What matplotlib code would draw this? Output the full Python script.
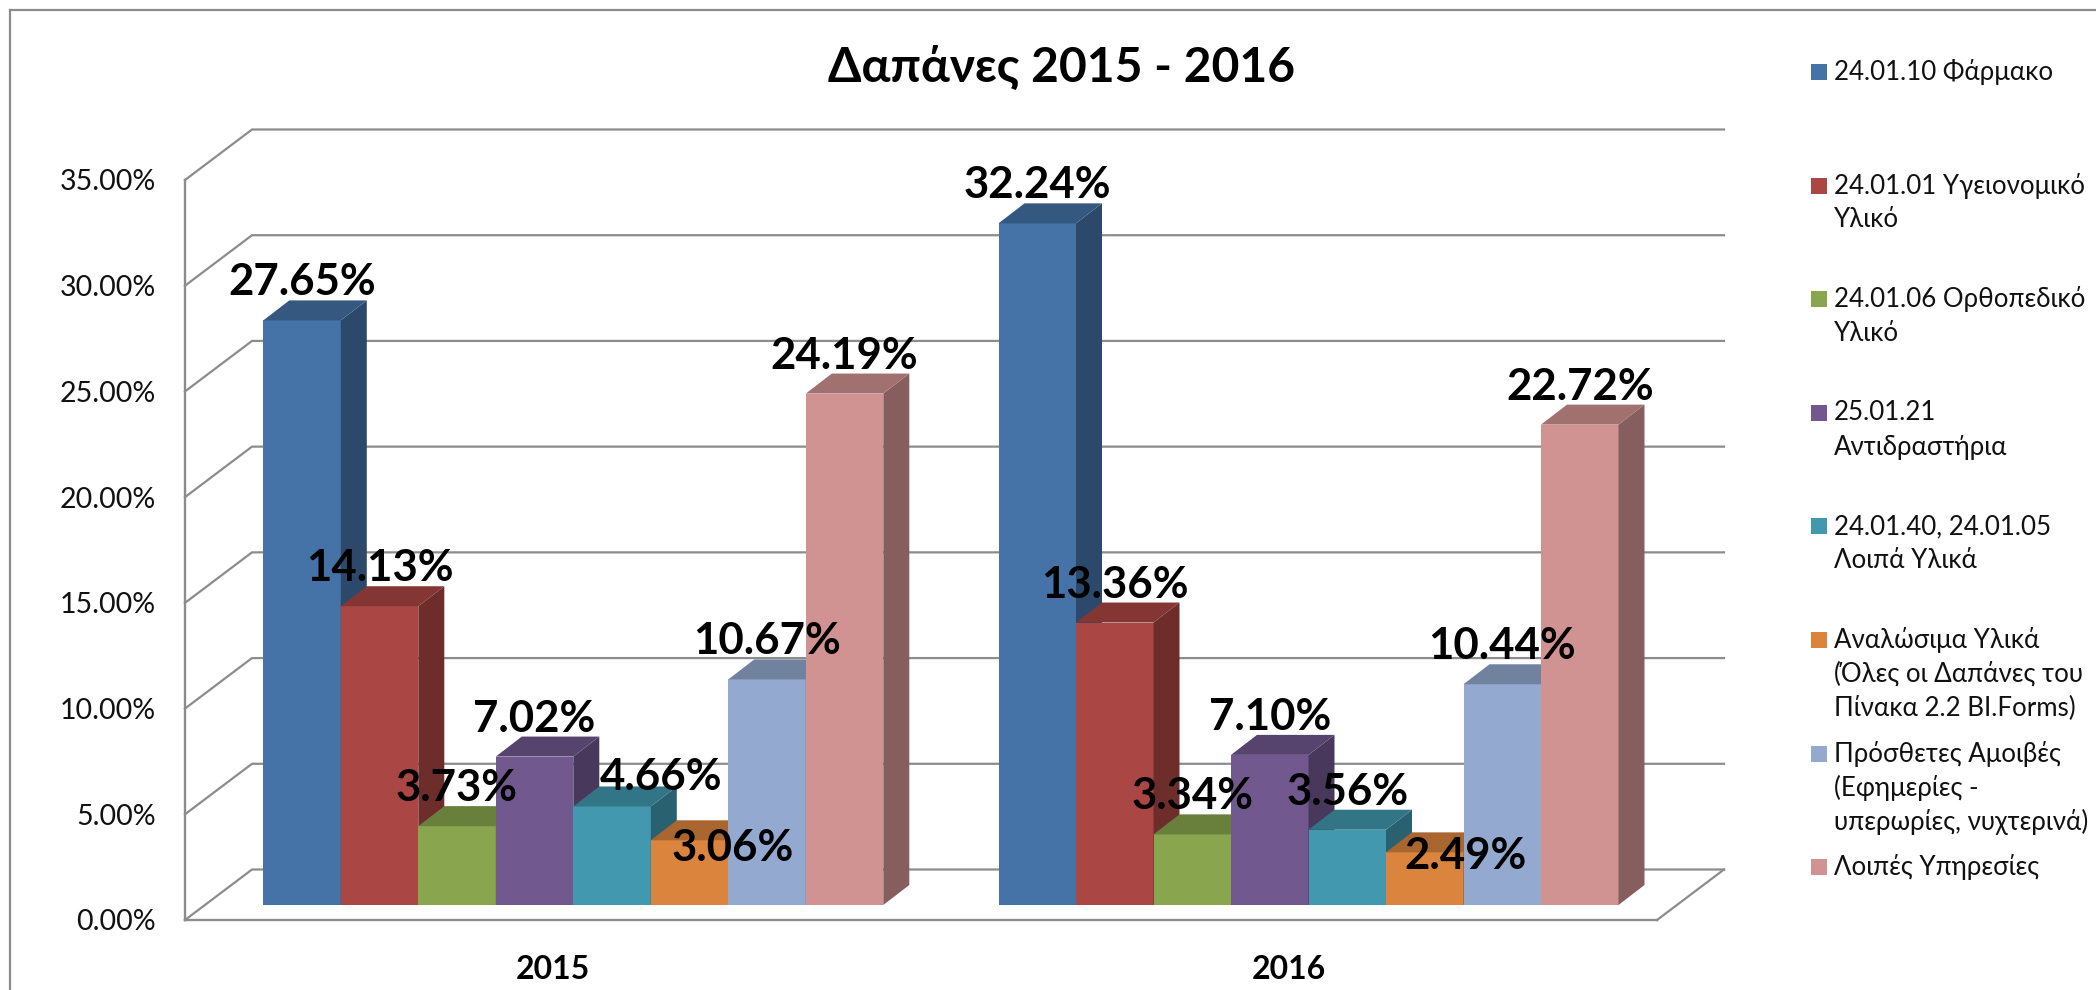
"""Δαπάνες 2015 - 2016: pseudo-3D grouped bars, Excel style."""

import matplotlib

matplotlib.use("Agg")
import matplotlib.pyplot as plt
import numpy as np
from matplotlib.colors import to_rgb
from matplotlib.lines import Line2D
from matplotlib.patches import Polygon, Rectangle

plt.rcParams["font.family"] = ["Lato", "Noto Sans", "DejaVu Sans"]

YEARS = ["2015", "2016"]
SERIES = [
    ["24.01.10 Φάρμακο"],
    ["24.01.01 Υγειονομικό", "Υλικό"],
    ["24.01.06 Ορθοπεδικό", "Υλικό"],
    ["25.01.21", "Αντιδραστήρια"],
    ["24.01.40, 24.01.05", "Λοιπά Υλικά"],
    ["Αναλώσιμα Υλικά", "(Όλες οι Δαπάνες του", "Πίνακα 2.2 BI.Forms)"],
    ["Πρόσθετες Αμοιβές", "(Εφημερίες -", "υπερωρίες, νυχτερινά)"],
    ["Λοιπές Υπηρεσίες"],
]
VALUES_2015 = [27.65, 14.13, 3.73, 7.02, 4.66, 3.06, 10.67, 24.19]
VALUES_2016 = [32.24, 13.36, 3.34, 7.10, 3.56, 2.49, 10.44, 22.72]
Y_TICKS = [0, 5, 10, 15, 20, 25, 30, 35]

COLORS = ["#4572A7", "#AA4643", "#89A54E", "#71588F",
          "#4198AF", "#DB843D", "#93A9CF", "#D19392"]
GRAY = "#8C8C8C"

W, H = 2096, 990
BAR_W = 77.5  # px per x unit
PX_PER_PCT = 740 / 35
GROUP_STARTS = [(263.3 - 185) / BAR_W, (998.5 - 185) / BAR_W]
BASE = 15 / PX_PER_PCT  # bars stand a little behind the front edge of the floor
DEPTH_X, DEPTH_Y = 26 / BAR_W, 20 / PX_PER_PCT  # bar depth
WALL_X, WALL_Y = 67 / BAR_W, 50.5 / PX_PER_PCT  # wall depth

# labels that were moved by hand in the original, in px from the default spot
LABEL_SHIFT = {(0, 4): (49, 9), (0, 5): (43, 46), (1, 5): (41, 42)}


def fx(px):
    return px / W


def fy(py):
    return 1 - py / H


def shade(color, k):
    return tuple(c * k for c in to_rgb(color))


fig = plt.figure(figsize=(W / 100, H / 100), dpi=100)
ax = fig.add_axes([fx(185), fy(920), 1472 / W, 740 / H])
ax.set_xlim(0, 1472 / BAR_W)
ax.set_ylim(0, 35)
ax.patch.set_alpha(0)

for side in ("top", "right"):
    ax.spines[side].set_visible(False)
for side in ("left", "bottom"):
    ax.spines[side].set_color(GRAY)
    ax.spines[side].set_linewidth(1.7)

ax.set_yticks(Y_TICKS)
ax.set_yticklabels([f"{t:.2f}%" for t in Y_TICKS], fontsize=20.5, color="#111111")
ax.set_xticks([1472 / BAR_W * 0.25, 1472 / BAR_W * 0.75])
ax.set_xticklabels(YEARS, fontsize=23, fontweight="bold", color="black")
ax.tick_params(axis="y", length=0, pad=21)
ax.tick_params(axis="x", length=0, pad=25)

# walls and floor
x_end = 1472 / BAR_W
for t in Y_TICKS:
    ax.plot([0, WALL_X, x_end + WALL_X], [t, t + WALL_Y, t + WALL_Y],
            color=GRAY, lw=1.6, clip_on=False, zorder=1, solid_joinstyle="miter")
ax.plot([x_end, x_end + WALL_X], [0, WALL_Y], color=GRAY, lw=1.6,
        clip_on=False, zorder=1)

for g, values in enumerate([VALUES_2015, VALUES_2016]):
    for i, val in enumerate(values):
        left = GROUP_STARTS[g] + i
        top = BASE + val
        z = 2 + g * 10 + i
        ax.bar(left, val, width=1, bottom=BASE, align="edge", color=COLORS[i],
               linewidth=0, zorder=z, clip_on=False)
        ax.add_patch(Polygon(
            [(left + 1, BASE), (left + 1 + DEPTH_X, BASE + DEPTH_Y),
             (left + 1 + DEPTH_X, top + DEPTH_Y), (left + 1, top)],
            facecolor=shade(COLORS[i], 0.64), linewidth=0, zorder=z, clip_on=False))
        ax.add_patch(Polygon(
            [(left, top), (left + DEPTH_X, top + DEPTH_Y),
             (left + 1 + DEPTH_X, top + DEPTH_Y), (left + 1, top)],
            facecolor=shade(COLORS[i], 0.77), linewidth=0, zorder=z, clip_on=False))

# data labels go over every bar
for g, values in enumerate([VALUES_2015, VALUES_2016]):
    for i, val in enumerate(values):
        dx, dy = LABEL_SHIFT.get((g, i), (0, 0))
        ax.annotate(f"{val:.2f}%", (GROUP_STARTS[g] + i + 0.5, BASE + val),
                    xytext=(dx, 38 - dy), textcoords="offset pixels",
                    ha="center", va="center", fontsize=31.5, fontweight="bold",
                    color="black", zorder=50, annotation_clip=False)

fig.text(fx(1062), fy(67), "Δαπάνες 2015 - 2016", ha="center", va="center",
         fontsize=34.6, fontweight="bold", color="black")

# legend, rows are evenly spaced in the original
for i, lines in enumerate(SERIES):
    y0 = 72 + i * 113.6
    fig.add_artist(Rectangle((fx(1811), fy(y0 + 8)), 16 / W, 16 / H,
                             transform=fig.transFigure, facecolor=COLORS[i],
                             linewidth=0))
    for j, line in enumerate(lines):
        fig.text(fx(1834), fy(y0 + j * 34.3), line, ha="left", va="center",
                 fontsize=18.6, color="#111111")

# chart area border, only left and top fit in the crop
for xs, ys in [([10, 10], [9.5, 990]), ([10, 2096], [9.5, 9.5])]:
    fig.add_artist(Line2D([fx(x) for x in xs], [fy(y) for y in ys], color=GRAY, lw=1.6))

fig.savefig("out.png", dpi=100)
